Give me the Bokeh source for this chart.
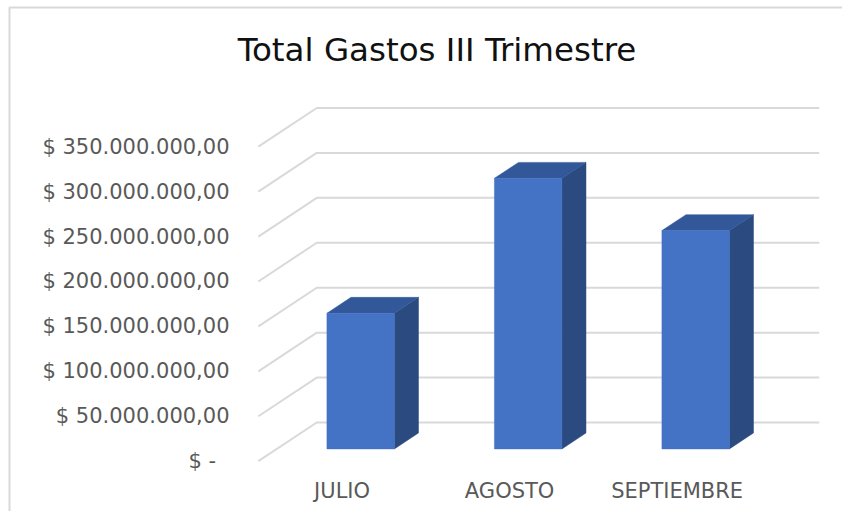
from bokeh.plotting import figure
from bokeh.models import Range1d
from bokeh.core.properties import value
from bokeh.embed import file_html
from bokeh.resources import INLINE

# ---------------- data ----------------
title_text = "Total Gastos III Trimestre"
categories = ["JULIO", "AGOSTO", "SEPTIEMBRE"]
totales = [150_900_000, 301_100_000, 242_900_000]
tick_values = [0, 50_000_000, 100_000_000, 150_000_000, 200_000_000,
               250_000_000, 300_000_000, 350_000_000]
tick_labels = ["$ -\u00a0\u00a0", "$ 50.000.000,00", "$ 100.000.000,00",
               "$ 150.000.000,00", "$ 200.000.000,00", "$ 250.000.000,00",
               "$ 300.000.000,00", "$ 350.000.000,00"]

# ---------------- layout (px) ----------------
W, H = 842, 511
X0, PX_CAT = 341.6, 167.5           # front-plane x of category 0, px per category
Y0, PX_VAL = 460.7, 44.93 / 50e6    # front-plane y of value 0, px per unit
DX = 58.4 / PX_CAT                  # depth offset (data units)
DY = 38.7 / PX_VAL
F1, F2 = 0.318, 0.73                # bar front / back depth fraction
HW = 0.2015                         # bar half width (categories)


def ux(px):   # pixel x -> data x
    return (px - X0) / PX_CAT


def vy(py):   # pixel y -> data y
    return (Y0 - py) / PX_VAL


FONT = "DejaVu Sans"
GRID = "#d9d9d9"

p = figure(width=W, height=H, output_backend="svg", toolbar_location=None,
           x_range=Range1d(ux(0), ux(W)), y_range=Range1d(vy(H), vy(0)),
           x_axis_location=None, y_axis_location=None, tools="",
           min_border=0)
p.outline_line_color = None
p.background_fill_color = "white"
p.border_fill_color = "white"
p.grid.visible = False

# chart border (left and top)
p.line([ux(9), ux(9), ux(W)], [vy(H), vy(7), vy(7)], line_color=GRID, line_width=2)

# title
p.text([ux(436.5)], [vy(49)], text=[title_text], text_font=value(FONT),
       text_font_size="32.5px", text_color="#111111", text_align="center",
       text_baseline="middle")

# value axis labels
p.text([ux(229)] * len(tick_values), tick_values, text=tick_labels,
       text_font=value(FONT), text_font_size="21px", text_color="#595959",
       text_align="right", text_baseline="middle")

# category labels
n = len(categories)
p.text(list(range(n)), [vy(490)] * n, text=categories, text_font=value(FONT),
       text_font_size="21px", text_color="#595959", text_align="center",
       text_baseline="middle")

# gridlines: diagonal on side wall + horizontal on back wall
left, right = -0.5, n - 0.5
xs, ys = [], []
for v in tick_values:
    xs.append([left, left + DX, right + DX])
    ys.append([v, v + DY, v + DY])
p.multi_line(xs, ys, line_color=GRID, line_width=2)

# bars (3D columns)
fx, fy, tx, ty, sx, sy = [], [], [], [], [], []
for i, v in enumerate(totales):
    xl, xr = i - HW, i + HW
    fx.append([xl + F1 * DX, xr + F1 * DX, xr + F1 * DX, xl + F1 * DX])
    fy.append([F1 * DY, F1 * DY, v + F1 * DY, v + F1 * DY])
    tx.append([xl + F1 * DX, xr + F1 * DX, xr + F2 * DX, xl + F2 * DX])
    ty.append([v + F1 * DY, v + F1 * DY, v + F2 * DY, v + F2 * DY])
    sx.append([xr + F1 * DX, xr + F2 * DX, xr + F2 * DX, xr + F1 * DX])
    sy.append([F1 * DY, F2 * DY, v + F2 * DY, v + F1 * DY])
p.patches(sx, sy, fill_color="#2A4A80", line_color="#2A4A80", line_width=0.5)
p.patches(tx, ty, fill_color="#33589A", line_color="#33589A", line_width=0.5)
p.patches(fx, fy, fill_color="#4472C4", line_color="#4472C4", line_width=0.5)

open("out.html", "w").write(file_html(p, INLINE))
